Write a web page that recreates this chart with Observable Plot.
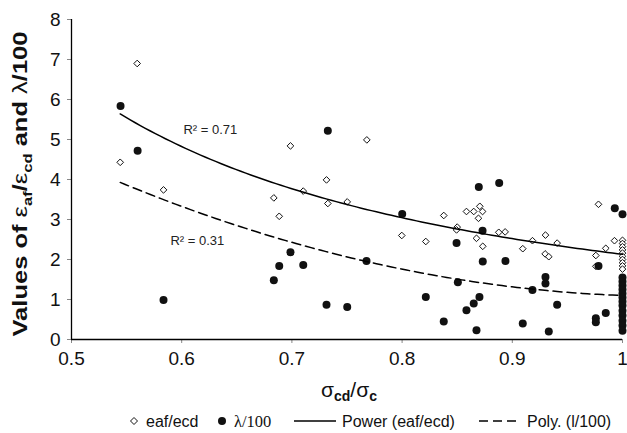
<!DOCTYPE html>
<html>
<head>
<meta charset="utf-8">
<script src="https://cdn.jsdelivr.net/npm/d3@7"></script>
<script src="https://cdn.jsdelivr.net/npm/@observablehq/plot@0.6"></script>
<style>
  html, body { margin: 0; padding: 0; background: #fff; }
  #wrap { position: relative; width: 627px; height: 433px; overflow: hidden; font-family: "Liberation Sans", Arial, sans-serif; }
  #legend { position: absolute; left: 0; top: 410px; width: 627px; height: 23px; font-size: 16px; color: #111; }
  .item { position: absolute; top: 0; height: 23px; line-height: 23px; white-space: nowrap; }
  .item svg { position: absolute; top: 0; }
</style>
</head>
<body>
<div id="wrap">
  <div id="chart"></div>
  <div id="legend"></div>
</div>
<script>
// ---- data ----
const eafX = [0.5442, 0.5596, 0.5835, 0.6836, 0.6885, 0.6987, 0.7103, 0.7314, 0.7326, 0.7502,
  0.7680, 0.7997, 0.8215, 0.8378, 0.8500, 0.8494, 0.8584, 0.8650, 0.8705, 0.8730,
  0.8693, 0.8675, 0.8732, 0.8877, 0.8935, 0.9095, 0.9183, 0.9301, 0.9407, 0.9298,
  0.9331, 0.9782, 0.9927, 0.9848, 0.9758, 0.9758,
  1, 1, 1, 1, 1, 1, 1, 1, 1, 1];
const eafY = [4.43, 6.90, 3.74, 3.54, 3.08, 4.84, 3.71, 3.99, 3.40, 3.44,
  4.99, 2.60, 2.45, 3.10, 2.81, 2.74, 3.20, 3.20, 3.33, 3.20,
  3.03, 2.53, 2.33, 2.68, 2.69, 2.27, 2.47, 2.61, 2.41, 2.14,
  2.07, 3.38, 2.47, 2.28, 2.10, 1.83,
  2.48, 2.40, 2.32, 2.24, 2.16, 2.08, 2.00, 1.92, 1.84, 1.76];

const lamX = [0.5445, 0.5600, 0.5835, 0.6836, 0.6885, 0.6987, 0.7103, 0.7314, 0.7326, 0.7502,
  0.7677, 0.8001, 0.8215, 0.8378, 0.8494, 0.8506, 0.8584, 0.8650, 0.8702, 0.8675,
  0.8696, 0.8881, 0.8730, 0.8732, 0.8938, 0.9095, 0.9183, 0.9301, 0.9301, 0.9407,
  0.9331, 0.9758, 0.9758, 0.9848, 0.9782, 0.9930, 1,
  1, 1, 1, 1, 1, 1, 1, 1, 1, 1, 1, 1, 1];
const lamY = [5.84, 4.72, 0.99, 1.48, 1.84, 2.18, 1.86, 0.87, 5.22, 0.81,
  1.96, 3.14, 1.06, 0.45, 2.41, 1.43, 0.73, 0.90, 1.06, 0.23,
  3.81, 3.91, 2.72, 1.95, 1.96, 0.40, 1.24, 1.56, 1.40, 0.87,
  0.20, 0.53, 0.43, 0.66, 1.84, 3.28, 3.13,
  1.55, 1.45, 1.35, 1.25, 1.15, 1.05, 0.95, 0.85, 0.72, 0.60, 0.47, 0.35, 0.22];

// trendline parameters (as shown on the reference)
const powerA = 2.13, powerB = -1.6;           // eaf/ecd = a * x^b
const polyC = [13.49, -23.76, 11.37];         // l/100 = c0 + c1 x + c2 x^2
const r2Labels = ["R² = 0.71", "R² = 0.31"];
const r2At = [[0.6016, 5.25], [0.5898, 2.46]];

const xTicks = [0.5, 0.6, 0.7, 0.8, 0.9, 1];
const yTicks = [0, 1, 2, 3, 4, 5, 6, 7, 8];
const legendLabels = ["eaf/ecd", "λ/100", "Power (eaf/ecd)", "Poly. (l/100)"];

// ---- tables for the marks ----
const eaf = eafX.map((x, i) => ({x, y: eafY[i]}));
const lam = lamX.map((x, i) => ({x, y: lamY[i]}));
const [x0, x1] = d3.extent(eafX.concat(lamX));
const xs = d3.range(0, 101).map(i => x0 + (x1 - x0) * i / 100);
const powerCurve = xs.map(x => ({x, y: powerA * Math.pow(x, powerB)}));
const polyCurve = xs.map(x => ({x, y: polyC[0] + polyC[1] * x + polyC[2] * x * x}));
const r2 = r2Labels.map((t, i) => ({t, x: r2At[i][0], y: r2At[i][1]}));

const fmt = d => d === 1 ? "1" : d.toFixed(1);

const chart = Plot.plot({
  width: 627,
  height: 410,
  marginLeft: 71,
  marginRight: 5,
  marginTop: 19,
  marginBottom: 71,
  style: {fontFamily: "Liberation Sans, Arial, sans-serif", fontSize: "19px", color: "#111", background: "white"},
  x: {domain: [0.5, 1]},
  y: {domain: [0, 8]},
  marks: [
    Plot.axisX({ticks: xTicks, tickFormat: fmt, tickSize: 4, tickPadding: 8, label: null, fontSize: 19, stroke: "#888"}),
    Plot.axisY({ticks: yTicks, tickSize: 4, tickPadding: 7, label: null, fontSize: 19, stroke: "#888"}),
    Plot.ruleY([0], {stroke: "#000", strokeWidth: 1.3}),
    Plot.ruleX([0.5], {stroke: "#000", strokeWidth: 1.3}),
    Plot.dot(eaf, {x: "x", y: "y", symbol: "diamond2", r: 3, fill: "white", stroke: "#111", strokeWidth: 1}),
    Plot.dot(lam, {x: "x", y: "y", r: 4, fill: "#111", stroke: "none"}),
    Plot.line(powerCurve, {x: "x", y: "y", stroke: "#000", strokeWidth: 1.5}),
    Plot.line(polyCurve, {x: "x", y: "y", stroke: "#000", strokeWidth: 1.5, strokeDasharray: "9,5"}),
    Plot.text(r2, {x: "x", y: "y", text: "t", textAnchor: "start", fontSize: 13, fill: "#222"})
  ]
});
document.getElementById("chart").appendChild(chart);

// axis titles with sub-scripts
const svg = d3.select(chart);
const ylab = svg.append("text")
  .attr("transform", "translate(27,184) rotate(-90)")
  .attr("text-anchor", "middle")
  .attr("font-family", "Liberation Sans, Arial, sans-serif")
  .attr("font-size", 20)
  .attr("font-weight", "bold")
  .attr("fill", "#111")
  .attr("textLength", 305)
  .attr("lengthAdjust", "spacingAndGlyphs");
ylab.append("tspan").text("Values of ");
ylab.append("tspan").attr("font-weight", "normal").text("ε");
ylab.append("tspan").attr("font-size", 13).attr("dy", 5).text("af");
ylab.append("tspan").attr("dy", -5).text("/");
ylab.append("tspan").attr("font-weight", "normal").text("ε");
ylab.append("tspan").attr("font-size", 13).attr("dy", 5).text("cd");
ylab.append("tspan").attr("dy", -5).text(" and ");
ylab.append("tspan").attr("font-weight", "normal").text("λ");
ylab.append("tspan").text("/100");

const xlab = svg.append("text")
  .attr("x", 349).attr("y", 397)
  .attr("text-anchor", "middle")
  .attr("font-family", "Liberation Sans, Arial, sans-serif")
  .attr("font-size", 21)
  .attr("fill", "#111");
xlab.append("tspan").text("σ");
xlab.append("tspan").attr("font-size", 14).attr("font-weight", "bold").attr("dy", 4).text("cd");
xlab.append("tspan").attr("dy", -4).text("/σ");
xlab.append("tspan").attr("font-size", 14).attr("font-weight", "bold").attr("dy", 4).text("c");

// legend
const legend = document.getElementById("legend");
function item(left, symbolSvg, symW, label, extraStyle) {
  const d = document.createElement("div");
  d.className = "item";
  d.style.left = left + "px";
  d.innerHTML = `<svg width="${symW}" height="23">${symbolSvg}</svg><span style="margin-left:${symW + 6}px;${extraStyle || ""}">${label}</span>`;
  legend.appendChild(d);
}
item(128, `<path d="M6,7.5 L9.5,11 L6,14.5 L2.5,11 Z" fill="white" stroke="#111" stroke-width="1"/>`, 12, legendLabels[0]);
item(216, `<circle cx="6" cy="11" r="4" fill="#111"/>`, 12, legendLabels[1], "font-family:'Liberation Serif',serif;font-size:16.5px;");
item(294, `<line x1="0" x2="42" y1="11" y2="11" stroke="#000" stroke-width="1.5"/>`, 42, legendLabels[2]);
item(479, `<line x1="0" x2="42" y1="11" y2="11" stroke="#000" stroke-width="1.5" stroke-dasharray="9,5"/>`, 42, legendLabels[3]);
</script>
</body>
</html>
